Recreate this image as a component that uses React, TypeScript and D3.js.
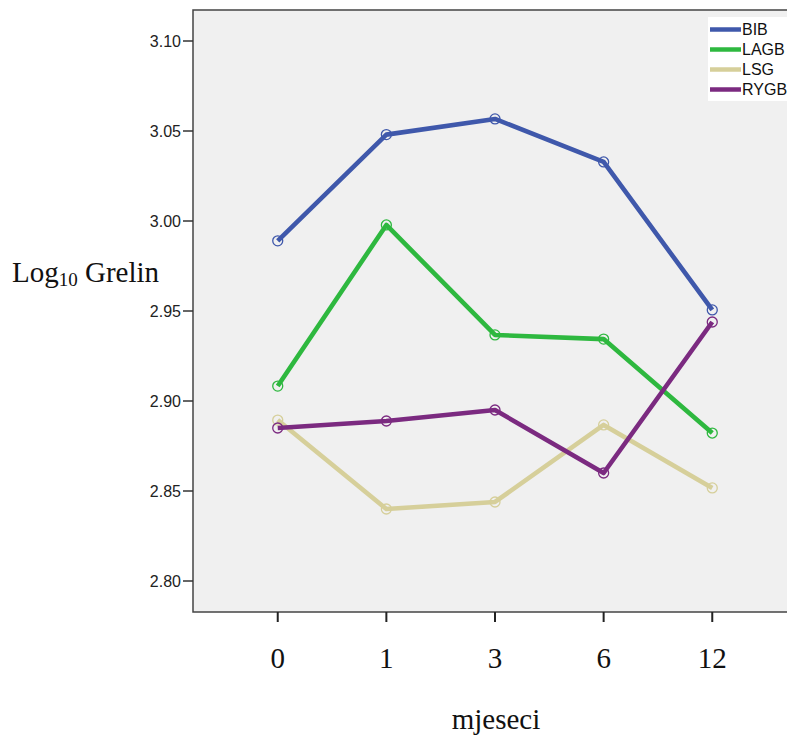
import React from "react";
import * as d3 from "d3";

const months = ["0", "1", "3", "6", "12"];
const seriesNames = ["BIB", "LAGB", "LSG", "RYGB"];
const bib = [2.989, 3.048, 3.0567, 3.0328, 2.9506];
const lagb = [2.9083, 2.9978, 2.9367, 2.9344, 2.8822];
const lsg = [2.8894, 2.84, 2.8439, 2.8867, 2.8517];
const rygb = [2.885, 2.8889, 2.895, 2.86, 2.9439];
const yTicks = [2.8, 2.85, 2.9, 2.95, 3.0, 3.05, 3.1];
const colors = ["#3f58ab", "#2eb83f", "#d6cf9a", "#7b2a80"];

const W = 787;
const H = 737;
const left = 193;
const right = 797;
const top = 10;
const bottom = 612;

export default function App() {
  const x = d3.scalePoint<string>().domain(months).range([left, right]).padding(0.78);
  const y = d3.scaleLinear().domain([2.8, 3.1]).range([581, 41]);
  const all = [bib, lagb, lsg, rygb];
  const line = d3
    .line<number>()
    .x((_, i) => x(months[i]) as number)
    .y((v) => y(v));

  return (
    <svg
      width={W}
      height={H}
      style={{ position: "absolute", left: 0, top: 0, background: "#fff" }}
    >
      <rect x={left} y={top} width={right - left} height={bottom - top} fill="#f0f0f0" stroke="#444" strokeWidth={1.5} />
      {yTicks.map((t) => (
        <g key={t}>
          <line x1={left - 10} x2={left} y1={y(t)} y2={y(t)} stroke="#333" strokeWidth={1.5} />
          <text
            x={left - 12}
            y={y(t)}
            dy="0.36em"
            textAnchor="end"
            fontFamily="'Liberation Sans', Arial, sans-serif"
            fontSize={16}
            fill="#222"
          >
            {t.toFixed(2)}
          </text>
        </g>
      ))}
      {months.map((m) => (
        <g key={m}>
          <line x1={x(m)} x2={x(m)} y1={bottom} y2={bottom + 10} stroke="#222" strokeWidth={2} />
          <text
            x={x(m)}
            y={668}
            textAnchor="middle"
            fontFamily="'Liberation Serif', 'Times New Roman', serif"
            fontSize={29}
            fill="#111"
          >
            {m}
          </text>
        </g>
      ))}
      {all.map((vals, si) => (
        <g key={si}>
          <path d={line(vals) as string} fill="none" stroke={colors[si]} strokeWidth={4.6} strokeLinejoin="round" />
          {vals.map((v, i) => (
            <circle
              key={i}
              cx={x(months[i])}
              cy={y(v)}
              r={5}
              fill="none"
              stroke={colors[si]}
              strokeWidth={1.3}
            />
          ))}
        </g>
      ))}
      <rect x={708} y={17} width={90} height={84} fill="#fff" />
      {seriesNames.map((n, i) => (
        <g key={n}>
          <line x1={710} x2={741} y1={29.5 + i * 20} y2={29.5 + i * 20} stroke={colors[i]} strokeWidth={4.5} />
          <text
            x={742}
            y={29.5 + i * 20}
            dy="0.36em"
            fontFamily="'Liberation Sans', Arial, sans-serif"
            fontSize={16}
            fill="#111"
          >
            {n}
          </text>
        </g>
      ))}
      <text
        x={12}
        y={282}
        fontFamily="'Liberation Serif', 'Times New Roman', serif"
        fontSize={29}
        fill="#111"
      >
        Log
        <tspan fontSize={19} dy={4}>10</tspan>
        <tspan dy={-4}> Grelin</tspan>
      </text>
      <text
        x={496}
        y={729}
        textAnchor="middle"
        fontFamily="'Liberation Serif', 'Times New Roman', serif"
        fontSize={29}
        fill="#111"
      >
        mjeseci
      </text>
    </svg>
  );
}
